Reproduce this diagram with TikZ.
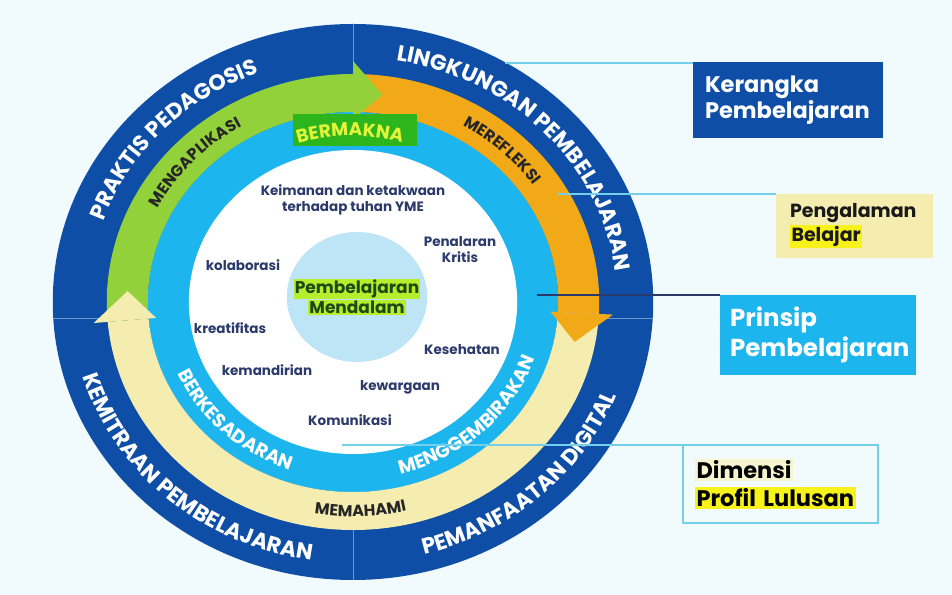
\documentclass[tikz,border=0pt]{standalone}
\usepackage{fontspec}
\setmainfont{Poppins}
\usetikzlibrary{decorations.text}
\definecolor{ringblue}{HTML}{0E4EA6}
\definecolor{lime}{HTML}{93D13A}
\definecolor{amber}{HTML}{F2A918}
\definecolor{cream}{HTML}{F5EDB0}
\definecolor{sky}{HTML}{1DB5EE}
\definecolor{pale}{HTML}{BDE5F6}
\definecolor{leaf}{HTML}{2DB51E}
\definecolor{lemon}{HTML}{E3F53A}
\definecolor{navy}{HTML}{2B3A6B}
\definecolor{wire}{HTML}{73CFEA}
\definecolor{bg}{HTML}{F1FAFC}
\definecolor{hlyellow}{HTML}{F7F21A}
\definecolor{hlpale}{HTML}{F6F5CF}
\definecolor{hllime}{HTML}{B6EE2E}
\definecolor{darkgreen}{HTML}{1C4A12}
\setlength{\fboxsep}{1.5pt}
\hyphenpenalty=10000
\exhyphenpenalty=10000

\begin{document}
\begin{tikzpicture}[x=1pt, y=1pt,
            outerlbl/.style = {decorate, decoration={text along path, text align=center, text color=white, text={|\bfseries\fontsize{22}{22}\selectfont|#1}}},
            midlbl/.style = {decorate, decoration={text along path, text align=center, text color=black!85, text={|\bfseries\fontsize{16}{16}\selectfont|#1}}},
            bandlbl/.style = {decorate, decoration={text along path, text align=center, text color=white, text={|\bfseries\fontsize{19}{19}\selectfont|#1}}},
            item/.style = {font=\bfseries\fontsize{13.5}{16}\selectfont, text=navy, align=center},
            panel/.style = {inner xsep=12pt, inner ysep=0pt, align=left, minimum height=#1},
            conn/.style = {draw=wire, line width=1.5pt},
            divider/.style = {draw=ringblue!60!white, line width=0.7pt},
        ]
        \fill[bg] (0,0) rectangle (952,594);
        \useasboundingbox (0,0) rectangle (952,594);

        \begin{scope}[shift={(353,292)}, xscale=1.08]
            \fill[ringblue] (0,0) circle[radius=278];
            \fill[sky] (0,0) circle[radius=190];
            \fill[white] (0,0) circle[radius=152];
            \fill[pale] (3.7,5) circle[radius=65];

            \fill[amber] (90:228) arc[start angle=90, end angle=-3, radius=228] -- (-3:190) arc[start angle=-3, end angle=90, radius=190] -- cycle;
            \fill[cream] (-3:228) arc[start angle=-3, end angle=-175, radius=228] -- (-175:190) arc[start angle=-175, end angle=-3, radius=190] -- cycle;
            \fill[lime] (185:228) arc[start angle=185, end angle=90, radius=228] -- (90:190) arc[start angle=90, end angle=185, radius=190] -- cycle;

            \draw[divider] (90:228) -- (90:278);
            \draw[divider] (-90:228) -- (-90:278);
            \draw[divider] (-227.4,-16) -- (-277.5,-16);
            \draw[divider] (227.4,-16) -- (277.5,-16);

            \fill[lime] (90:241) -- (82.5:209) -- (90:183) -- cycle;
            \fill[amber] (-3:241) -- (-11:209) -- (-3:183) -- cycle;
            \fill[cream] (185:241) -- (177:209) -- (185:183) -- cycle;

            \fill[leaf] (-55.6,156) rectangle (59.3,188);
            \path[decorate, decoration={text along path, text align=center, text color=lemon, text={|\bfseries\fontsize{18.5}{18.5}\selectfont|BERMAKNA}}] (151:166) arc[start angle=151, end angle=31, radius=166];

            \path[outerlbl=PRAKTIS PEDAGOSIS] (197:245) arc[start angle=197, end angle=77, radius=245];
            \path[outerlbl=LINGKUNGAN PEMBELAJARAN] (103:245) arc[start angle=103, end angle=-17, radius=245];
            \path[outerlbl=KEMITRAAN PEMBELAJARAN] (168:261) arc[start angle=168, end angle=288, radius=261];
            \path[outerlbl=PEMANFAATAN DIGITAL] (253:261) arc[start angle=253, end angle=373, radius=261];
            \path[midlbl=MENGAPLIKASI] (198:203.5) arc[start angle=198, end angle=78, radius=203.5];
            \path[midlbl=MEREFLEKSI] (106:203.5) arc[start angle=106, end angle=-14, radius=203.5];
            \path[midlbl=MEMAHAMI] (212:214.5) arc[start angle=212, end angle=332, radius=214.5];
            \path[bandlbl=BERKESADARAN] (166:177.5) arc[start angle=166, end angle=286, radius=177.5];
            \path[bandlbl=MENGGEMBIRAKAN] (254:177.5) arc[start angle=254, end angle=374, radius=177.5];
        \end{scope}

        \node (core) [font=\bfseries\fontsize{17}{19}\selectfont, text=darkgreen, align=center] at (357,297) {\setlength{\fboxsep}{1pt}\colorbox{hllime}{Pembelajaran}\\\setlength{\fboxsep}{1pt}\colorbox{hllime}{Mendalam}};

        \node (faith) [item] at (353,394) {Keimanan dan ketakwaan\\terhadap tuhan YME};
        \node (reason) [item] at (460,344) {Penalaran\\Kritis};
        \node (collab) [item] at (243,329) {kolaborasi};
        \node (create) [item] at (230,266) {kreatifitas};
        \node (indep) [item] at (267,224) {kemandirian};
        \node (health) [item] at (462,244) {Kesehatan};
        \node (citizen) [item] at (400,207) {kewargaan};
        \node (comm) [item] at (350,174) {Komunikasi};

        \node (frame) [panel=76pt, fill=ringblue, text=white, text width=166pt, font=\bfseries\fontsize{22.5}{26}\selectfont] at (788,494) {Kerangka\\Pembelajaran};
        \node (exper) [panel=64pt, fill=cream, text=black!90, text width=129pt, inner xsep=14pt, font=\bfseries\fontsize{19}{24}\selectfont] at (854.5,368) {Pengalaman\\\colorbox{hlyellow}{Belajar}};
        \node (princ) [panel=80pt, fill=sky, text=white, text width=176pt, inner xsep=10pt, font=\bfseries\fontsize{24.5}{30}\selectfont] at (818,259) {Prinsip\\Pembelajaran};
        \node (profile) [panel=78pt, fill=bg, draw=wire, line width=1.8pt, text=black, text width=171pt, font=\bfseries\fontsize{22.5}{28}\selectfont] at (780.5,110) {\colorbox{hlpale}{Dimensi}\\\colorbox{hlyellow}{Profil Lulusan}};

        \coordinate (framepin) at (505,531);
        \coordinate (experpin) at (557,400);
        \coordinate (princpin) at (537,299);
        \coordinate (profilepin) at (342,149);
        \path[conn] (framepin) -- (framepin -| frame.west);
        \path[conn] (experpin) -- (experpin -| exper.west);
        \path[conn, draw=navy] (princpin) -- (princpin -| princ.west);
        \path[conn] (profilepin) -- (profilepin -| profile.west);
    \end{tikzpicture}
\end{document}
